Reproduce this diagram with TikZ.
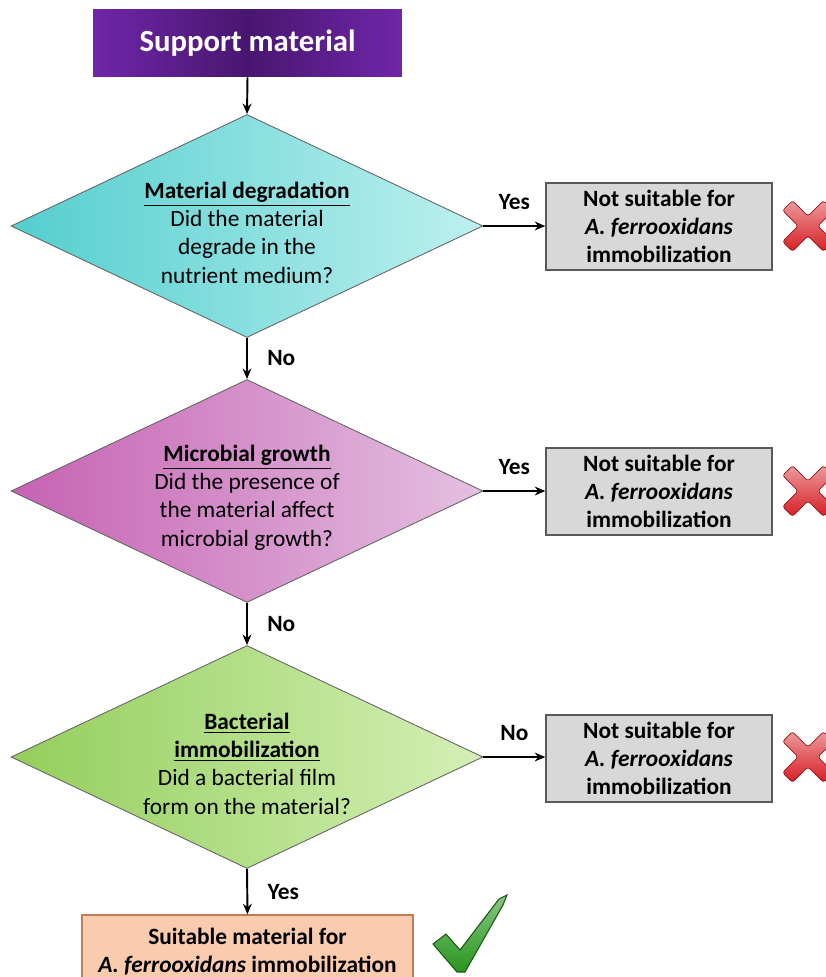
\documentclass[tikz,border=0pt]{standalone}
\usepackage{fontspec}
\setmainfont{Carlito}
\usetikzlibrary{arrows.meta,shapes.geometric}
\definecolor{startedge}{RGB}{112,38,168}
\definecolor{startmid}{RGB}{72,22,112}
\definecolor{degradeL}{RGB}{84,206,206}
\definecolor{degradeR}{RGB}{190,240,240}
\definecolor{growthL}{RGB}{198,98,178}
\definecolor{growthR}{RGB}{228,192,226}
\definecolor{filmL}{RGB}{148,206,92}
\definecolor{filmR}{RGB}{212,240,182}
\definecolor{rejectfill}{RGB}{216,216,216}
\definecolor{acceptfill}{RGB}{250,203,172}
\definecolor{acceptedge}{RGB}{196,122,84}
\definecolor{crossred}{RGB}{214,30,36}
\definecolor{tickgreen}{RGB}{40,150,30}
\newcommand{\bodysize}{\fontsize{13.3}{16}\selectfont}
% pushes the question text a little below the diamond centre
\newcommand{\lowered}{\mbox{}\\[1pt]}

\begin{document}
\begin{tikzpicture}[
  x=0.02cm,y=-0.02cm,
  >={Stealth[length=6pt,width=5pt]},
  flow/.style={->,line width=1.1pt,black},
  start/.style={rectangle,minimum width=6.18cm,minimum height=1.36cm,
    left color=startedge,right color=startedge,middle color=startmid,
    text=white,font=\fontsize{17.5}{21}\selectfont\bfseries},
  question/.style={diamond,font=\bodysize,draw=black!60,line width=0.5pt,aspect=2.1,
    minimum width=9.44cm,minimum height=4.46cm,inner sep=0pt,align=center},
  reject/.style={rectangle,font=\bodysize\bfseries,draw=black!65,line width=0.8pt,
    fill=rejectfill,minimum width=4.52cm,minimum height=1.74cm,align=center},
  accept/.style={rectangle,font=\bodysize\bfseries,draw=acceptedge,line width=0.8pt,
    fill=acceptfill,minimum width=6.62cm,minimum height=1.46cm,align=center},
  answer/.style={font=\bodysize\bfseries,inner sep=1pt},
  crossmark/.style={draw=crossred!70!black,line width=0.4pt,
    top color=crossred!45!white,bottom color=crossred,rounded corners=1.5pt},
  tickmark/.style={draw=tickgreen!60!black,line width=0.6pt,
    top color=tickgreen!55!white,bottom color=tickgreen}
]
\newcommand{\crossat}[1]{%
  \begin{scope}[shift={(#1)},rotate=45]
    \path[crossmark] (7,29) -- (7,7) -- (29,7) -- (29,-7) -- (7,-7) -- (7,-29)
      -- (-7,-29) -- (-7,-7) -- (-29,-7) -- (-29,7) -- (-7,7) -- (-7,29) -- cycle;
  \end{scope}}
\useasboundingbox (0,0) rectangle (825,977);

% ----- main column -----
\node[start] (src) at (247.5,43) {Support material};
\node[question,left color=degradeL,right color=degradeR] (q1) at (247,226)
  {\lowered\textbf{\underline{Material degradation}}\\Did the material\\degrade in the\\nutrient medium?};
\node[question,left color=growthL,right color=growthR] (q2) at (247,491)
  {\lowered\textbf{\underline{Microbial growth}}\\Did the presence of\\the material affect\\microbial growth?};
\node[question,left color=filmL,right color=filmR] (q3) at (247,757)
  {\lowered\textbf{\underline{Bacterial}}\\\textbf{\underline{immobilization}}\\Did a bacterial film\\form on the material?};
\node[accept] (ok) at (247.5,951.5)
  {Suitable material for\\\textit{A. ferrooxidans} immobilization};

% ----- rejections on the right -----
\node[reject] (r1) at (659,226.5) {Not suitable for\\\textit{A. ferrooxidans}\\immobilization};
\node[reject] (r2) at (659,491.5) {Not suitable for\\\textit{A. ferrooxidans}\\immobilization};
\node[reject] (r3) at (659,758.5) {Not suitable for\\\textit{A. ferrooxidans}\\immobilization};

% ----- connectors -----
\draw[flow] (src.south) -- (q1.north);
\draw[flow] (q1.south) -- node[answer,right=10pt] {No} (q2.north);
\draw[flow] (q2.south) -- node[answer,right=10pt] {No} (q3.north);
\draw[flow] (q3.south) -- node[answer,right=10pt] {Yes} (ok.north);
\draw[flow] (q1.east) -- node[answer,above=8pt] {Yes} (r1.west |- q1.east);
\draw[flow] (q2.east) -- node[answer,above=8pt] {Yes} (r2.west |- q2.east);
\draw[flow] (q3.east) -- node[answer,above=8pt] {No} (r3.west |- q3.east);

% ----- marks -----
\crossat{808,226}
\crossat{808,491}
\crossat{808,757}
\path[tickmark] (433,944) -- (446,934) -- (460,950) -- (499,899) -- (507,895)
  -- (503,905) -- (465,972) -- (457,972) -- cycle;
\end{tikzpicture}
\end{document}
